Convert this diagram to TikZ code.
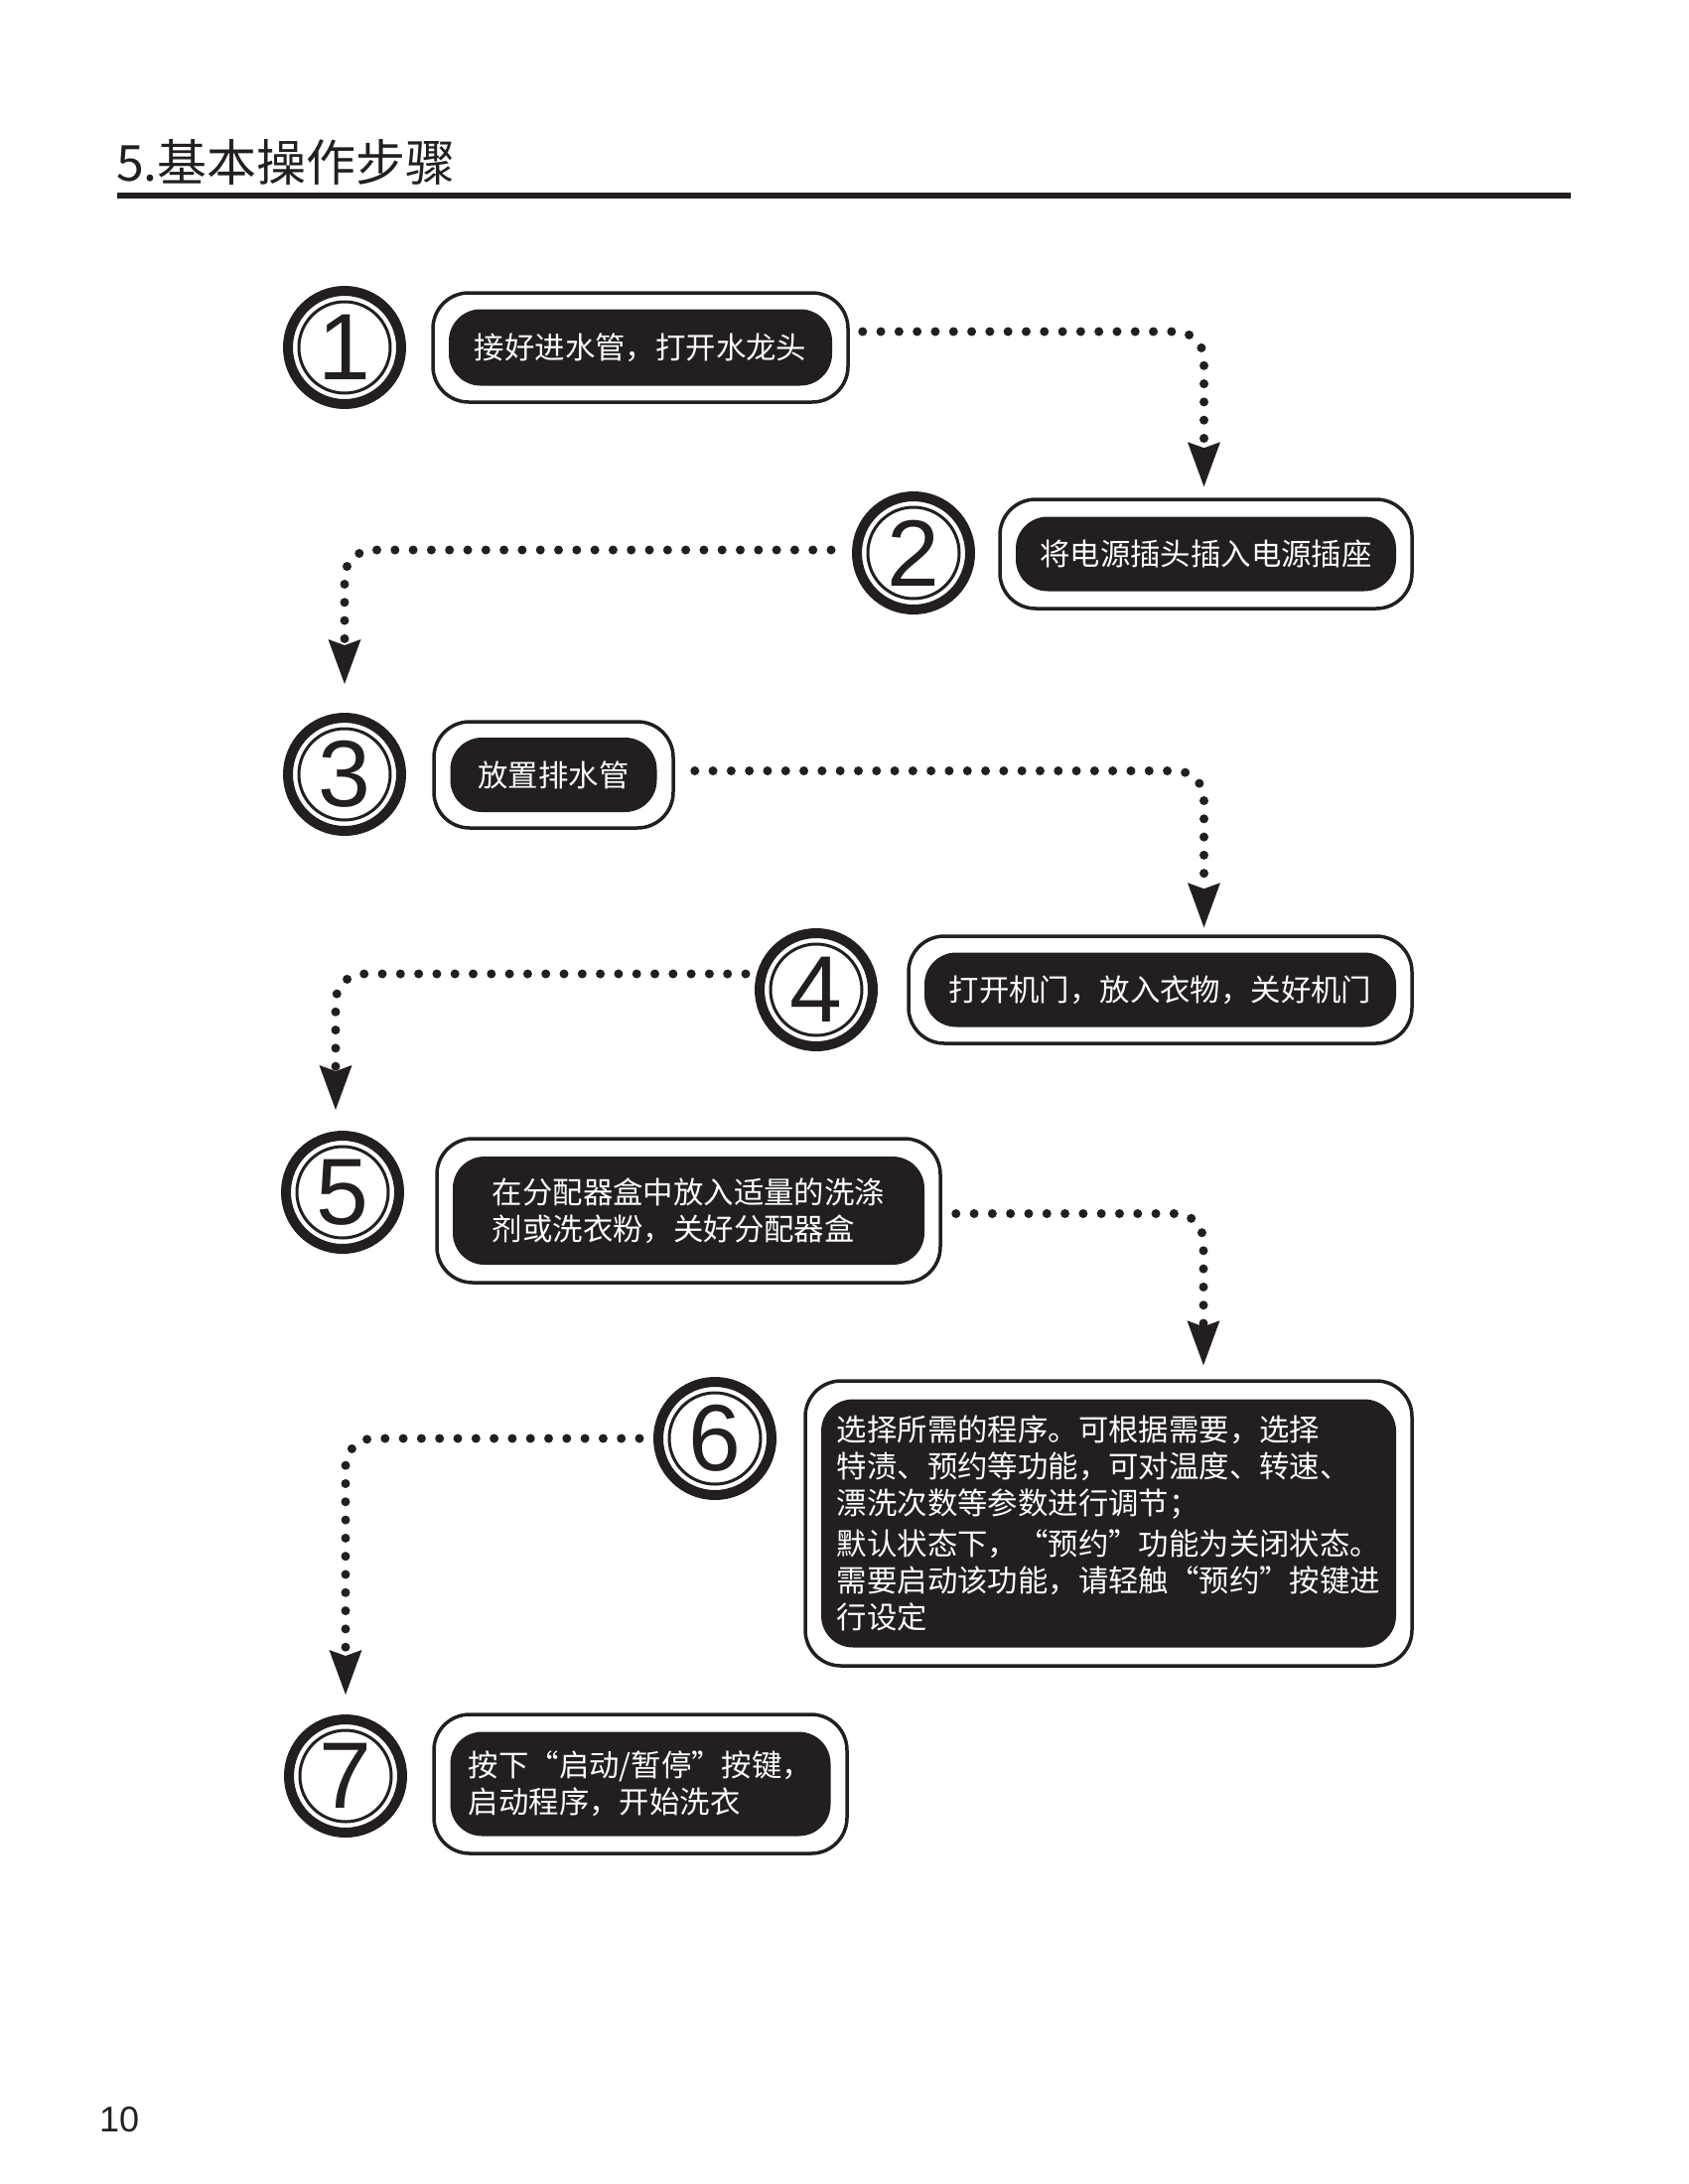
\documentclass[tikz,border=0pt]{standalone}
\usepackage{fontspec}
\usepackage{tikz}
\usetikzlibrary{positioning,arrows.meta}
\setmainfont{Liberation Sans}
\newfontfamily\cjk{Noto Sans CJK SC}
\definecolor{ink}{HTML}{231F20}
\newcommand\oquote{\makebox[1em][r]{“}}
\newcommand\cquote{\makebox[1em][l]{”}}

\begin{document}
\begin{tikzpicture}[x=1pt, y=-1pt,
  numring/.style = {circle, draw=ink, line width=10pt, minimum size=114pt, inner sep=0pt,
    text=ink, font=\fontsize{95}{95}\selectfont},
  outerbox/.style = {draw=ink, line width=3.5pt, rounded corners=36pt, inner sep=0pt},
  stepbox/.style = {fill=ink, rounded corners=32pt, inner sep=0pt, text=white, align=left,
    font=\cjk\fontsize{30.4}{37}\selectfont},
  dotline/.style = {draw=ink, line width=9pt, line cap=round, dash pattern=on 0pt off 18.3pt,
    rounded corners=28pt, -{Stealth[length=45pt, width=33pt, inset=6pt, line width=0pt]}}
]
\useasboundingbox (0,0) rectangle (1700,2200);

% heading
\node[anchor=base west, inner sep=0pt, text=ink, font=\cjk\fontsize{50}{50}\selectfont]
  (title) at (117,182) {5.基本操作步骤};
\draw[ink, line width=6pt] (118,197) -- (1582,197);

% step numbers
\node[numring] (c1) at (347,350) {1};
\node[numring] (c2) at (920,557) {2};
\node[numring] (c3) at (347,780) {3};
\node[numring] (c4) at (822,997) {4};
\node[numring] (c5) at (345,1201) {5};
\node[numring] (c6) at (720,1449) {6};
\node[numring] (c7) at (348,1789) {7};
\foreach \i in {1,...,7}
  \draw[ink, line width=3pt] (c\i.center) circle[radius=46pt];

% step boxes
\node[outerbox, minimum width=418pt, minimum height=110pt] (b1) at (645,350) {};
\node[stepbox, minimum width=386pt, minimum height=77pt] (t1) at (b1) {接好进水管，打开水龙头};

\node[outerbox, minimum width=415pt, minimum height=110pt] (b2) at (1214.5,558) {};
\node[stepbox, minimum width=383pt, minimum height=75pt] (t2) at (b2) {将电源插头插入电源插座};

\node[outerbox, minimum width=241pt, minimum height=107pt] (b3) at (557.5,780.5) {};
\node[stepbox, minimum width=208pt, minimum height=75pt] (t3) at (b3) {放置排水管};

\node[outerbox, minimum width=507pt, minimum height=108pt] (b4) at (1168.5,997) {};
\node[stepbox, minimum width=475pt, minimum height=75pt] (t4) at (b4) {打开机门，放入衣物，关好机门};

\node[outerbox, minimum width=507pt, minimum height=145pt] (b5) at (693.5,1219.5) {};
\node[stepbox, minimum width=475pt, minimum height=109pt] (t5) at (b5)
  {在分配器盒中放入适量的洗涤\\剂或洗衣粉，关好分配器盒};

\node[outerbox, minimum width=611pt, minimum height=287pt] (b6) at (1116.5,1534.5) {};
\node[stepbox, minimum width=579pt, minimum height=250pt] (t6) at (b6)
  {选择所需的程序。可根据需要，选择\\
   特渍、预约等功能，可对温度、转速、\\
   漂洗次数等参数进行调节；\\[4pt]
   默认状态下，\oquote 预约\cquote 功能为关闭状态。\\
   需要启动该功能，请轻触\oquote 预约\cquote 按键进\\
   行设定};

\node[outerbox, minimum width=416pt, minimum height=140pt] (b7) at (645,1797) {};
\node[stepbox, minimum width=383pt, minimum height=105pt] (t7) at (b7)
  {按下\oquote 启动/暂停\cquote 按键，\\启动程序，开始洗衣};

% dotted arrows
\draw[dotline] ([xshift=13pt, yshift=16pt]b1.east) -| ([xshift=-2pt, yshift=11pt]b2.north);
\draw[dotline] ([xshift=-21pt, yshift=3pt]c2.west) -| ([yshift=29pt]c3.north);
\draw[dotline] ([xshift=20pt, yshift=4pt]b3.east) -| ([xshift=44pt, yshift=7pt]b4.north);
\draw[dotline] ([xshift=-9pt, yshift=16pt]c4.west) -| ([xshift=-7pt, yshift=21pt]c5.north);
\draw[dotline] ([xshift=14pt, yshift=-3pt]b5.east) -| ([xshift=95.5pt, yshift=14pt]b6.north);
\draw[dotline] ([xshift=-14pt]c6.west) -| ([yshift=20pt]c7.north);

% page number
\node[anchor=base west, inner sep=0pt, text=ink, font=\fontsize{36}{36}\selectfont]
  (pagenum) at (100,2147) {10};
\end{tikzpicture}
\end{document}
